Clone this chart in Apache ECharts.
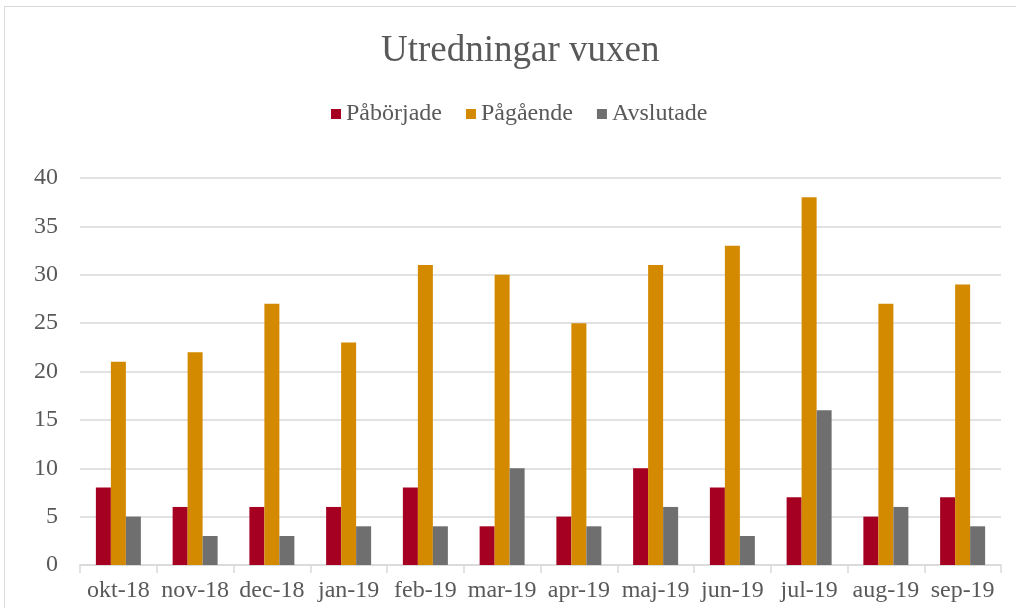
<!DOCTYPE html>
<html>
<head>
<meta charset="utf-8">
<script src="https://cdn.jsdelivr.net/npm/echarts@6/dist/echarts.min.js"></script>
<style>
  html, body { margin: 0; padding: 0; background: #fff; }
  #frame { position: absolute; left: 4px; top: 6px; width: 1030px; height: 620px; border: 1px solid #d9d9d9; }
  #main { position: absolute; left: 0; top: 0; width: 1016px; height: 608px; }
</style>
</head>
<body>
<div id="frame"></div>
<div id="main"></div>
<script>
  // data
  const months = ['okt-18', 'nov-18', 'dec-18', 'jan-19', 'feb-19', 'mar-19', 'apr-19', 'maj-19', 'jun-19', 'jul-19', 'aug-19', 'sep-19'];
  const paborjade = [8, 6, 6, 6, 8, 4, 5, 10, 8, 7, 5, 7];
  const pagaende = [21, 22, 27, 23, 31, 30, 25, 31, 33, 38, 27, 29];
  const avslutade = [5, 3, 3, 4, 4, 10, 4, 6, 3, 16, 6, 4];

  const font = '"Liberation Serif", "Times New Roman", serif';

  let chart = echarts.init(document.getElementById('main'), null, { renderer: 'canvas' });

  function bar(name, data, color) {
    return {
      name: name,
      type: 'bar',
      data: data,
      barWidth: 15,
      barGap: '0%',
      itemStyle: { color: color },
      emphasis: { disabled: true }
    };
  }

  // chart frame is wider than the visible window, so title/legend sit a bit right of centre
  let option = {
    animation: false,
    textStyle: { fontFamily: font },
    title: {
      text: 'Utredningar vuxen',
      left: 376,
      top: 28,
      textStyle: { fontFamily: font, fontSize: 37, fontWeight: 'normal', color: '#595959' }
    },
    legend: {
      top: 97,
      left: 326,
      itemWidth: 10,
      itemHeight: 10,
      itemGap: 24,
      icon: 'rect',
      textStyle: { fontFamily: font, fontSize: 24, color: '#595959' }
    },
    grid: { left: 80, right: 15, top: 178, bottom: 43, containLabel: false },
    xAxis: {
      type: 'category',
      data: months,
      axisLine: { lineStyle: { color: '#d9d9d9', width: 1.5 } },
      axisTick: { show: true, length: 8, lineStyle: { color: '#d9d9d9', width: 1.5 } },
      axisLabel: { interval: 0, fontFamily: font, fontSize: 24, color: '#595959', margin: 14 }
    },
    yAxis: {
      type: 'value',
      min: 0,
      max: 40,
      interval: 5,
      axisLine: { show: false },
      axisTick: { show: false },
      axisLabel: { fontFamily: font, fontSize: 24, color: '#595959', margin: 22 },
      splitLine: { lineStyle: { color: '#d9d9d9', width: 1.5 } }
    },
    series: [
      bar('Påbörjade', paborjade, '#a50021'),
      bar('Pågående', pagaende, '#d48a00'),
      bar('Avslutade', avslutade, '#6f6f70')
    ]
  };

  chart.setOption(option);
</script>
</body>
</html>
